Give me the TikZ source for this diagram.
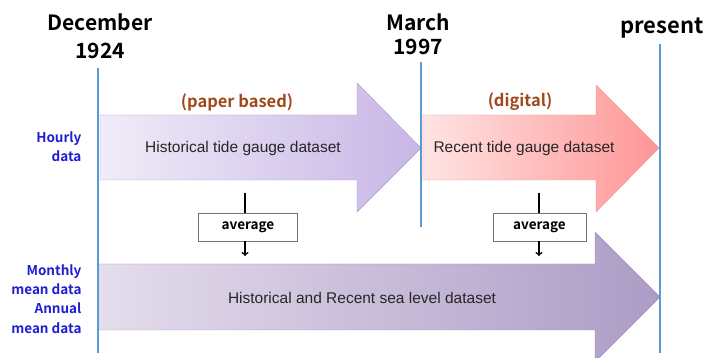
\documentclass[tikz,border=0pt]{standalone}
\usepackage{fontspec}
\setmainfont{Liberation Sans}
\newfontfamily\gothic{Noto Sans CJK JP}[BoldFont={Noto Sans CJK JP Bold}]
\usetikzlibrary{arrows}

\definecolor{lineblue}{RGB}{91,155,213}
\definecolor{labelblue}{RGB}{30,30,210}
\definecolor{erabrown}{RGB}{160,72,28}
\definecolor{histleft}{RGB}{240,236,248}
\definecolor{histright}{RGB}{200,182,230}
\definecolor{histedge}{RGB}{170,150,205}
\definecolor{recleft}{RGB}{255,228,228}
\definecolor{recright}{RGB}{255,150,150}
\definecolor{recedge}{RGB}{235,150,150}
\definecolor{sealeft}{RGB}{228,221,236}
\definecolor{searight}{RGB}{172,156,198}
\definecolor{seaedge}{RGB}{165,145,195}

\begin{document}
\begin{tikzpicture}[x=1pt,y=-1pt,>=to,
  time line/.style={draw=lineblue,line width=1.6pt},
  date label/.style={font=\gothic\bfseries\fontsize{21}{26}\selectfont,align=center},
  side label/.style={font=\gothic\bfseries\fontsize{13.5}{19.3}\selectfont,text=labelblue,align=right,anchor=east},
  era label/.style={font=\gothic\bfseries\fontsize{16.5}{18}\selectfont,text=erabrown},
  data text/.style={font=\fontsize{15.5}{17}\selectfont,text=black!85},
  avg box/.style={draw=black!55,fill=white,line width=0.8pt,minimum width=99pt,minimum height=28pt,
    inner sep=0pt,font=\gothic\bfseries\fontsize{13.5}{14}\selectfont}]

  \useasboundingbox (0,0) rectangle (705,358);

  % time lines
  \coordinate (dec top) at (98,68);
  \coordinate (dec bot) at (98,353);
  \coordinate (mar top) at (421,62);
  \coordinate (mar bot) at (421,227);
  \coordinate (pre top) at (660,44);
  \coordinate (pre bot) at (660,353);

  % arrows
  \shadedraw[draw=histedge,left color=histleft,right color=histright]
    (100,115) -- (357,115) -- (357,83) -- (421,148) -- (357,212) -- (357,180) -- (100,180) -- cycle;
  \shadedraw[draw=recedge,left color=recleft,right color=recright]
    (421,115) -- (596,115) -- (596,85) -- (659,148) -- (596,212) -- (596,180) -- (421,180) -- cycle;
  \shadedraw[draw=seaedge,left color=sealeft,right color=searight]
    (98,264) -- (595,264) -- (595,232) -- (660,297) -- (595,362) -- (595,330) -- (98,330) -- cycle;

  \draw[time line] (dec top) -- (dec bot);
  \draw[time line] (mar top) -- (mar bot);
  \draw[time line] (pre top) -- (pre bot);

  \node[date label,font=\gothic\bfseries\fontsize{21}{28}\selectfont] (dec) at (100,36) {December\\1924};
  \node[date label,font=\gothic\bfseries\fontsize{21}{24}\selectfont] (mar) at (418,34) {March\\1997};
  \node[date label,font=\gothic\bfseries\fontsize{22}{26}\selectfont] (pre) at (662,28) {present};

  \node[era label] (paper) at (237,102) {(paper based)};
  \node[era label] (digital) at (520,102) {(digital)};

  \node[side label] (hourly) at (85,146.5) {Hourly\\data};
  \node[side label] (mean) at (85,299) {Monthly\\mean data\\Annual\\mean data};

  \node[data text] (hist) at (243,148) {Historical tide gauge dataset};
  \node[data text] (rec) at (524,148) {Recent tide gauge dataset};
  \node[data text] (sea) at (362,298) {Historical and Recent sea level dataset};

  % averaging
  \node[avg box] (avg1) at (248,227) {average};
  \node[avg box,minimum width=93pt] (avg2) at (539.5,227) {average};
  \coordinate (avg1 in) at (245,193);
  \coordinate (avg1 out) at (245,256);
  \coordinate (avg2 in) at (539,193);
  \coordinate (avg2 out) at (539,256);

  \path[black,line width=1.5pt,>={to[scale=1.3]}]
    (avg1 in) edge (avg1 in |- avg1.north)
    (avg1 out |- avg1.south) edge[->] (avg1 out)
    (avg2 in) edge (avg2 in |- avg2.north)
    (avg2 out |- avg2.south) edge[->] (avg2 out)
    ;
\end{tikzpicture}
\end{document}
